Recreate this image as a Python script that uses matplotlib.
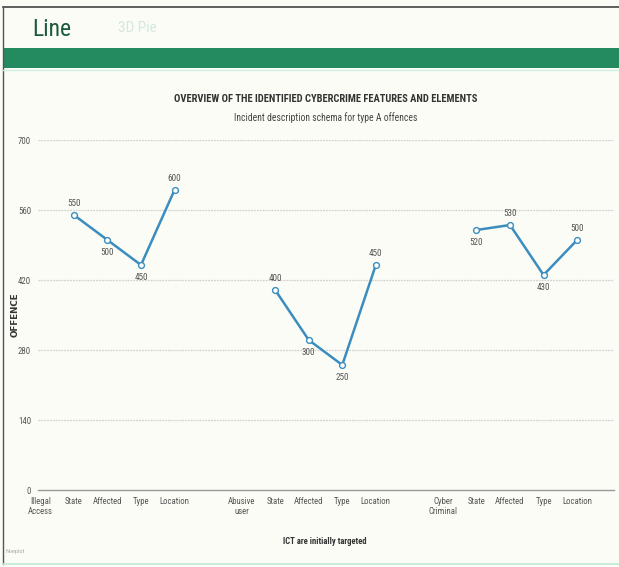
import numpy as np
import matplotlib.pyplot as plt
from matplotlib.lines import Line2D
from matplotlib.patches import Rectangle

# Категории оси X (пустые строки - промежутки между группами)
categories = ["Illegal\nAccess", "State", "Affected", "Type", "Location", "",
              "Abusive\nuser", "State", "Affected", "Type", "Location", "",
              "Cyber\nCriminal", "State", "Affected", "Type", "Location"]
group_headers = ["Illegal\nAccess", "Abusive\nuser", "Cyber\nCriminal"]
illegal_access = [550, 500, 450, 600]
abusive_user = [400, 300, 250, 450]
cyber_criminal = [520, 530, 430, 500]
y_ticks = [0, 140, 280, 420, 560, 700]

title = "OVERVIEW OF THE IDENTIFIED CYBERCRIME FEATURES AND ELEMENTS"
subtitle = "Incident description schema for type A offences"

plt.rcParams['font.family'] = ['Roboto Condensed', 'Liberation Sans']

W, H = 619, 567
bg = '#fbfcf6'
line_color = '#3b8dbf'

fig = plt.figure(figsize=(W / 100, H / 100), dpi=100, facecolor=bg)


def fx(px):
    return px / W


def fy(py):
    return 1 - py / H


# Рамка и шапка
fig.add_artist(Line2D([fx(3), fx(619)], [fy(7), fy(7)], color='#444444', lw=1.2))
fig.add_artist(Line2D([fx(3), fx(3)], [fy(7), fy(564)], color='#555555', lw=1.0))
fig.add_artist(Line2D([fx(3), fx(619)], [fy(564), fy(564)], color='#bfe8d5', lw=1.2))
fig.add_artist(Rectangle((fx(3), fy(68)), fx(616), 20 / H, color='#248a5f', lw=0))
fig.add_artist(Line2D([fx(3), fx(619)], [fy(70), fy(70)], color='#cdeee0', lw=1.0))
fig.text(fx(32), fy(30), "Line", fontsize=17, color='#1d5a3c', va='center', ha='left')
fig.text(fx(118), fy(28), "3D Pie", fontsize=11, color='#d3e8df', va='center', ha='left')

fig.text(fx(326), fy(99), title, fontsize=7.6, fontweight='bold', color='#333333',
         ha='center', va='center')
fig.text(fx(326), fy(118), subtitle, fontsize=6.9, color='#444444',
         ha='center', va='center')
fig.text(fx(325), fy(541), "ICT are initially targeted", fontsize=6.2,
         fontweight='bold', color='#333333', ha='center', va='center')
fig.text(fx(15), fy(315), "OFFENCE", fontsize=6.3, fontweight='bold', color='#333333',
         rotation=90, ha='center', va='center', family='DejaVu Sans')
fig.text(fx(5), fy(552), "Noeplot", fontsize=4.5, color='#aaaaaa', ha='left', va='center')

# Область графика
ax = fig.add_axes([fx(38), fy(490), fx(614 - 38), (490 - 140) / H])
ax.set_facecolor(bg)
for s in ax.spines.values():
    s.set_visible(False)

x_idx = np.arange(len(categories))
ax.set_xlim(-0.07, 17.1)
ax.set_ylim(0, 700)
ax.set_yticks(y_ticks)
ax.set_yticklabels([str(v) for v in y_ticks])
ax.set_xticks(x_idx)
ax.set_xticklabels(categories)
ax.tick_params(axis='both', length=0, labelsize=6.3, colors='#555555')
ax.tick_params(axis='y', pad=5)
ax.tick_params(axis='x', pad=5)
for lbl in ax.get_xticklabels():
    lbl.set_verticalalignment('top')

for v in y_ticks[1:]:
    ax.axhline(v, color='#d2d2d2', lw=0.9, ls=(0, (1.5, 0.8)), zorder=1)
ax.axhline(0, color='#9a9a9a', lw=1.0, zorder=1, clip_on=False)

series = [illegal_access, abusive_user, cyber_criminal]
for header, vals in zip(group_headers, series):
    start = categories.index(header) + 1
    xs = x_idx[start:start + len(vals)]
    ax.plot(xs, vals, color=line_color, lw=1.8, marker='o', ms=4.2,
            markerfacecolor='white', markeredgecolor=line_color, markeredgewidth=1.0,
            zorder=3, clip_on=False)
    for i, (x, v) in enumerate(zip(xs, vals)):
        nb = [vals[j] for j in (i - 1, i + 1) if 0 <= j < len(vals)]
        above = all(v > n for n in nb)
        ax.annotate(str(v), (x, v), xytext=(0, 5 if above else -6),
                    textcoords='offset points', ha='center',
                    va='bottom' if above else 'top',
                    fontsize=6.6, color='#555555', zorder=4)

fig.savefig('out.png', dpi=100, facecolor=bg)
